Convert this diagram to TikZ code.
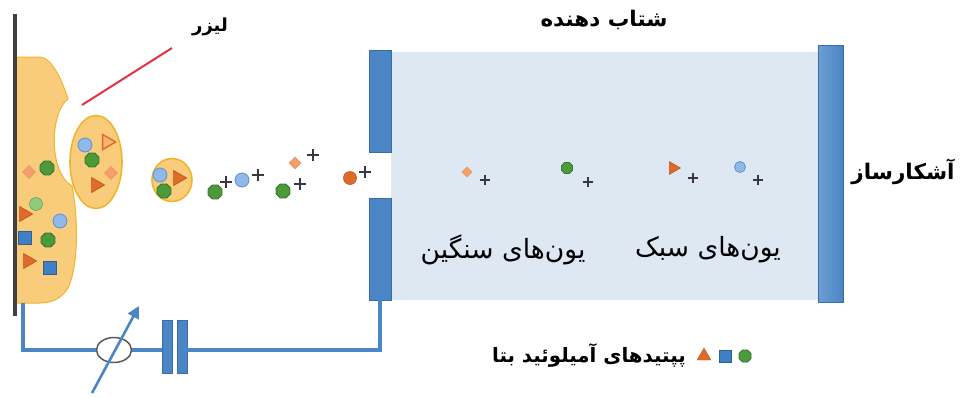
\documentclass[tikz,border=0pt]{standalone}
\usepackage{fontspec}
\newfontfamily\fa[Script=Arabic]{DejaVu Sans}
\TeXXeTstate=1
\usetikzlibrary{shapes.geometric,arrows.meta}
\definecolor{matrixfill}{HTML}{F9CC7C}
\definecolor{matrixedge}{HTML}{EFB52C}
\definecolor{plateblue}{HTML}{4A86C6}
\definecolor{plateedge}{HTML}{3A6DA5}
\definecolor{chamber}{HTML}{DDE8F3}
\definecolor{wire}{HTML}{4A86C6}
\definecolor{laserred}{HTML}{E2323F}
\definecolor{pgreen}{HTML}{4C9A3A}
\definecolor{pgreenD}{HTML}{33752A}
\definecolor{plgreen}{HTML}{8FCB7B}
\definecolor{plblue}{HTML}{90B9EA}
\definecolor{plblueD}{HTML}{5F8FD0}
\definecolor{porange}{HTML}{E06B28}
\definecolor{porangeL}{HTML}{F3A06A}
\definecolor{psquare}{HTML}{3F7FC4}
\definecolor{plusc}{HTML}{3A3646}
\begin{document}
\begin{tikzpicture}[x=1pt,y=-1pt,
  grn/.style={regular polygon, regular polygon sides=8, fill=pgreen, draw=pgreenD, line width=0.8, minimum size=15, inner sep=0},
  lgrn/.style={circle, fill=plgreen, draw=plgreen!80!black, line width=0.6, minimum size=13, inner sep=0},
  lblu/.style={circle, fill=plblue, draw=plblueD, line width=0.8, minimum size=14, inner sep=0},
  tri/.style={isosceles triangle, isosceles triangle apex angle=60, fill=porange, draw=porange!80!black, line width=0.6, minimum height=13, minimum width=12, inner sep=0},
  dia/.style={diamond, fill=porangeL, draw=porange!70!white, line width=0.8, minimum size=13, inner sep=0},
  sqr/.style={rectangle, fill=psquare, draw=psquare!75!black, line width=0.6, minimum size=13, inner sep=0},
  orb/.style={circle, fill=porange, draw=porange!80!black, line width=0.6, minimum size=13, inner sep=0},
  plus/.style={minimum size=12, inner sep=0, path picture={
      \draw[plusc, line width=2.2]
        (path picture bounding box.north) -- (path picture bounding box.south)
        (path picture bounding box.west) -- (path picture bounding box.east);}},
  splus/.style={plus, minimum size=10},
  plate/.style={rectangle, fill=plateblue, draw=plateedge, line width=0.8, inner sep=0},
  title/.style={font=\fa\bfseries\fontsize{21.5}{24}\selectfont, inner sep=0},
  label/.style={font=\fa\fontsize{26.5}{30}\selectfont, inner sep=0},
  wireline/.style={draw=wire, line width=3.2}
]
\useasboundingbox (0,0) rectangle (961,397);

% matrix spot on the sample plate
\draw[fill=matrixfill, draw=matrixedge, line width=1]
  (15,57) -- (40,57) .. controls (52,58) and (62,80) .. (68,99)
  .. controls (50,112) and (48,172) .. (72,186)
  .. controls (78,215) and (79,265) .. (68,288)
  .. controls (62,298) and (52,303) .. (40,303) -- (15,303) -- cycle;
% sample plate
\draw[draw=black!75, line width=3.4] (15,14) -- (15,316);

% plume droplets
\node[ellipse, fill=matrixfill, draw=matrixedge, line width=1.6, minimum width=52, minimum height=93] (drop) at (96,162) {};
\node[ellipse, fill=matrixfill, draw=matrixedge, line width=1.6, minimum width=40, minimum height=43] (drop2) at (172,180) {};

% laser beam
\coordinate (laserA) at (82,105);
\coordinate (laserB) at (172,48);
\draw[laserred, line width=2] (laserA) -- (laserB);
\node[title, font=\fa\bfseries\fontsize{18}{20}\selectfont] (lasertxt) at (210,27) {\beginR لیزر\endR};

% peptides in the matrix
\node[dia] (m1) at (29,172) {};
\node[grn] (m2) at (47,168) {};
\node[lgrn] (m3) at (36,204) {};
\node[tri] (m4) at (24,214) {};
\node[lblu] (m5) at (60,221) {};
\node[sqr] (m6) at (25,238) {};
\node[grn] (m7) at (48,240) {};
\node[tri] (m8) at (28,261) {};
\node[sqr] (m9) at (50,268) {};

% peptides in the large droplet
\node[lblu] (d1) at (85,145) {};
\node[tri, fill=porangeL!60!matrixfill, draw=porange, line width=1.4] (d2) at (107,142) {};
\node[grn] (d3) at (92,160) {};
\node[dia] (d4) at (111,173) {};
\node[tri] (d5) at (96,185) {};

% peptides in the small droplet
\node[tri] (s2) at (178,178) {};
\node[lblu] (s1) at (160,175) {};
\node[grn] (s3) at (164,191) {};

% ions in flight
\node[grn] (f1) at (215,192) {};
\node[plus] (f1p) at (226,182) {};
\node[lblu] (f2) at (242,180) {};
\node[plus] (f2p) at (258,175) {};
\node[dia, minimum size=12] (f3) at (295,163) {};
\node[plus] (f3p) at (313,155) {};
\node[grn] (f4) at (283,191) {};
\node[plus] (f4p) at (300,184) {};
\node[orb] (f5) at (350,178) {};
\node[plus] (f5p) at (365,172) {};

% flight tube
\fill[chamber] (391,52) rectangle (818,300);
\node[plate, minimum width=22, minimum height=102] (gtop) at (380,101) {};
\node[plate, minimum width=22, minimum height=102] (gbot) at (380,249) {};
\node[plate, minimum width=25, minimum height=257, left color=plateblue!80!white, right color=plateblue] (det) at (830.5,173.5) {};
\node[title] (acctxt) at (604,20) {\beginR شتاب دهنده\endR};
\node[title] (dettxt) at (903,172) {\beginR آشکارساز\endR};

% separated ions
\node[dia, minimum size=10] (h1) at (467,172) {};
\node[splus] (h1p) at (485,180) {};
\node[grn, minimum size=12] (h2) at (567,168) {};
\node[splus] (h2p) at (588,182) {};
\node[tri, minimum height=11, minimum width=10] (l1) at (673,168) {};
\node[splus] (l1p) at (693,178) {};
\node[lblu, minimum size=11] (l2) at (740,167) {};
\node[splus] (l2p) at (758,180) {};
\node[label] (heavy) at (503,250) {\beginR یون‌های سنگین\endR};
\node[label] (light) at (708,250) {\beginR یون‌های سبک\endR};

% circuit
\coordinate (wstart) at (23,303);
\node[ellipse, draw=black!65, fill=white, line width=1.5, minimum width=35, minimum height=25, inner sep=0] (amm) at (114,350) {};
\node[plate, minimum width=10, minimum height=53] (cap1) at (167,346.5) {};
\node[plate, minimum width=10, minimum height=53] (cap2) at (182,346.5) {};
\coordinate (wend) at (cap2.east |- amm.east);
\draw[wireline] (wstart) |- (amm.west);
\draw[wireline] (amm.east) -- (cap1.west |- amm.east);
\draw[wireline] (wend) -| (gbot.south);
\coordinate (arrA) at (92,393);
\coordinate (arrB) at (139,306);
\draw[draw=wire, line width=2.6, -{Triangle[length=12,width=12]}] (arrA) -- (arrB);

% legend
\node[title, font=\fa\bfseries\fontsize{19.8}{22}\selectfont] (legtxt) at (589,355) {\beginR پپتیدهای آمیلوئید بتا\endR};
\node[isosceles triangle, shape border rotate=90, isosceles triangle apex angle=60, fill=porange, draw=porange!80!black, minimum height=12, minimum width=13, inner sep=0] (lg1) at (704,356) {};
\node[sqr, minimum size=12] (lg2) at (725,356) {};
\node[grn, minimum size=13] (lg3) at (745,356) {};
\end{tikzpicture}
\end{document}
